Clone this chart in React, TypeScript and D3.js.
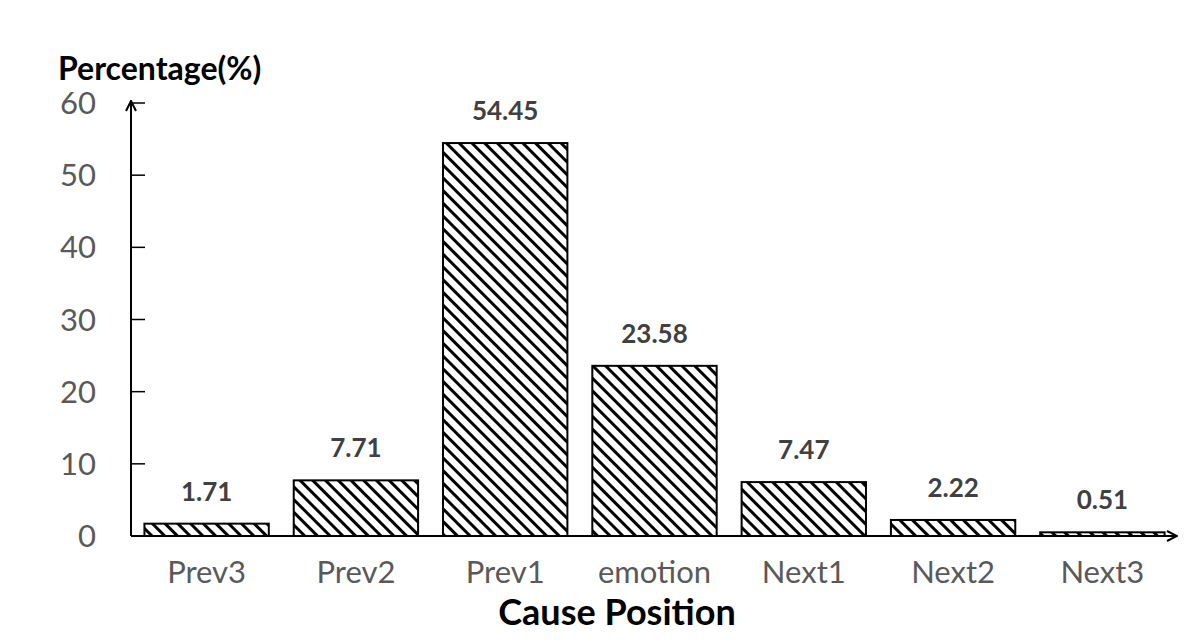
import { useEffect, useRef } from 'react';
import * as d3 from 'd3';

const categories = ['Prev3', 'Prev2', 'Prev1', 'emotion', 'Next1', 'Next2', 'Next3'];
const values = [1.71, 7.71, 54.45, 23.58, 7.47, 2.22, 0.51];
const yTicks = [0, 10, 20, 30, 40, 50, 60];

const FONT = "Lato, Carlito, Calibri, 'Open Sans', sans-serif";

export default function App() {
  const svgRef = useRef<SVGSVGElement>(null);

  useEffect(() => {
    const svg = d3.select(svgRef.current);
    svg.selectAll('*').remove();

    const x0 = 131, x1 = 1178;
    const yBottom = 536, yTop = 103;

    const x = d3.scaleBand().domain(categories).range([x0, x1]).paddingInner(0.167).paddingOuter(0.09);
    const y = d3.scaleLinear().domain([0, 60]).range([yBottom, yTop]);

    const defs = svg.append('defs');
    const pat = defs.append('pattern')
      .attr('id', 'hatch')
      .attr('patternUnits', 'userSpaceOnUse')
      .attr('width', 9).attr('height', 9)
      .attr('patternTransform', 'rotate(45)');
    pat.append('rect').attr('width', 9).attr('height', 9).attr('fill', '#fff');
    pat.append('line').attr('x1', 0).attr('y1', 0).attr('x2', 9).attr('y2', 0)
      .attr('stroke', '#000').attr('stroke-width', 6);

    const marker = defs.append('marker')
      .attr('id', 'arrow')
      .attr('viewBox', '0 0 12 12')
      .attr('refX', 11).attr('refY', 6)
      .attr('markerWidth', 12).attr('markerHeight', 12)
      .attr('markerUnits', 'userSpaceOnUse')
      .attr('orient', 'auto');
    marker.append('path').attr('d', 'M1,1 L11,6 L1,11').attr('fill', 'none')
      .attr('stroke', '#000').attr('stroke-width', 2);

    // bars
    svg.append('g').selectAll('rect')
      .data(values)
      .enter()
      .append('rect')
      .attr('x', (d, i) => x(categories[i])!)
      .attr('y', d => y(d))
      .attr('width', x.bandwidth())
      .attr('height', d => yBottom - y(d))
      .attr('fill', 'url(#hatch)')
      .attr('stroke', '#000')
      .attr('stroke-width', 2);

    // value labels
    svg.append('g').selectAll('text')
      .data(values)
      .enter()
      .append('text')
      .attr('x', (d, i) => x(categories[i])! + x.bandwidth() / 2)
      .attr('y', d => y(d) - 23)
      .attr('text-anchor', 'middle')
      .style('font-family', FONT)
      .style('font-size', '26px')
      .style('font-weight', 'bold')
      .attr('fill', '#404040')
      .text(d => d.toFixed(2));

    // y axis
    svg.append('line')
      .attr('x1', x0).attr('x2', x0).attr('y1', yBottom).attr('y2', yTop - 2)
      .attr('stroke', '#000').attr('stroke-width', 2)
      .attr('marker-end', 'url(#arrow)');
    svg.append('g').selectAll('line')
      .data(yTicks)
      .enter()
      .append('line')
      .attr('x1', x0).attr('x2', x0 + 14)
      .attr('y1', d => y(d)).attr('y2', d => y(d))
      .attr('stroke', '#000').attr('stroke-width', 1.5);
    svg.append('g').selectAll('text')
      .data(yTicks)
      .enter()
      .append('text')
      .attr('x', 96)
      .attr('y', d => y(d))
      .attr('dy', '0.36em')
      .attr('text-anchor', 'end')
      .style('font-family', FONT)
      .style('font-size', '31px')
      .attr('fill', '#595959')
      .text(d => d);

    // x axis
    svg.append('line')
      .attr('x1', x0).attr('x2', 1177).attr('y1', yBottom).attr('y2', yBottom)
      .attr('stroke', '#000').attr('stroke-width', 2)
      .attr('marker-end', 'url(#arrow)');
    svg.append('g').selectAll('text')
      .data(categories)
      .enter()
      .append('text')
      .attr('x', d => x(d)! + x.bandwidth() / 2)
      .attr('y', 583)
      .attr('text-anchor', 'middle')
      .style('font-family', FONT)
      .style('font-size', '31px')
      .attr('fill', '#595959')
      .text(d => d);

    // axis titles
    svg.append('text')
      .attr('x', 617).attr('y', 625)
      .attr('text-anchor', 'middle')
      .style('font-family', FONT)
      .style('font-size', '36px')
      .style('font-weight', 'bold')
      .attr('fill', '#000')
      .text('Cause Position');
    svg.append('text')
      .attr('x', 58).attr('y', 80)
      .style('font-family', FONT)
      .style('font-size', '32px')
      .style('font-weight', 'bold')
      .attr('fill', '#000')
      .text('Percentage(%)');
  }, []);

  return (
    <svg ref={svgRef} width={1196} height={641}
      style={{ position: 'absolute', left: 0, top: 0, background: '#fff' }} />
  );
}
